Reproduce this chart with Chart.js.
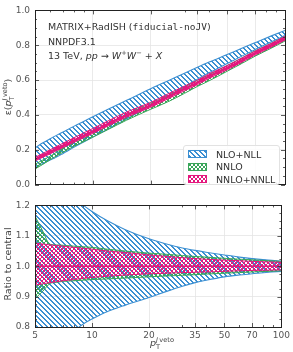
<!DOCTYPE html>
<html>
<head>
<meta charset="utf-8">
<script src="https://cdn.jsdelivr.net/npm/chart.js@4.4.0/dist/chart.umd.min.js"></script>
<style>
  body { margin: 0; background: #fff; width: 293px; height: 352px; position: relative; overflow: hidden;
         font-family: 'DejaVu Sans', sans-serif; color: #333; }
  canvas { position: absolute; left: 0; }
  #top { top: 0; }
  #bot { top: 195px; }
  .t { position: absolute; white-space: nowrap; font-size: 9.5px; line-height: 12px; color: #333; }
  .mono { font-family: 'DejaVu Sans Mono', monospace; }
  .ax { position: absolute; white-space: nowrap; font-size: 9.5px; color: #444; line-height: 12px;
        transform: translate(-50%, -50%) rotate(-90deg); }
  .xt { position: absolute; white-space: nowrap; font-size: 9.5px; color: #444; line-height: 12px;
        transform: translate(-50%, -50%); }
  sub, sup { font-size: 0.7em; line-height: 0; }
  .legend { position: absolute; left: 183px; top: 145px; width: 97px; height: 40px; box-sizing: border-box;
            background: rgba(255,255,255,0.85); border: 1px solid #e2e2e2; border-radius: 3px; }
  .row { position: absolute; left: 4px; height: 12px; display: flex; align-items: center; font-size: 9.5px; color: #333; }
  .row canvas { position: static; margin-right: 9px; }
</style>
</head>
<body>
<canvas id="top" width="293" height="195"></canvas>
<canvas id="bot" width="293" height="157"></canvas>

<div class="t" style="left:48px;top:21px">MATRIX+RadISH (<span class="mono">fiducial-noJV</span>)</div>
<div class="t" style="left:48px;top:35.5px">NNPDF3.1</div>
<div class="t" style="left:48px;top:50px">13 TeV, <i>pp</i> &rarr; <i>W</i><sup>+</sup><i>W</i><sup>&minus;</sup> + <i>X</i></div>

<div class="ax" style="left:8px;top:97px">&epsilon;(<i>p</i><sub>T</sub><sup style="margin-left:-0.6em"><i>J</i>&#8201;veto</sup>)</div>
<div class="ax" style="left:8px;top:264px">Ratio to central</div>
<div class="xt" style="left:162px;top:343px"><i>p</i><sub>T</sub><sup style="margin-left:-0.6em"><i>J</i>&#8201;veto</sup></div>

<div class="legend" id="legend"></div>

<script>
// pT veto grid (GeV)
const xs = [5, 5.5, 6, 6.5, 7, 8, 9, 10, 12, 15, 20, 25, 30, 35, 40, 50, 60, 70, 85, 100];

// central efficiencies
const nloNll    = [0.155, 0.179, 0.201, 0.221, 0.240, 0.274, 0.303, 0.330, 0.376, 0.432, 0.505, 0.559, 0.603, 0.640, 0.671, 0.720, 0.761, 0.795, 0.837, 0.870];
const nnlo      = [0.100, 0.127, 0.152, 0.175, 0.196, 0.232, 0.260, 0.285, 0.330, 0.385, 0.448, 0.495, 0.540, 0.580, 0.610, 0.666, 0.712, 0.752, 0.797, 0.837];
const nnloNnll  = [0.145, 0.167, 0.187, 0.206, 0.223, 0.254, 0.281, 0.305, 0.348, 0.399, 0.455, 0.508, 0.550, 0.585, 0.620, 0.670, 0.715, 0.755, 0.800, 0.840];

// uncertainty bands, ratio to each central value
const nloNllHi   = [1.360, 1.340, 1.310, 1.285, 1.260, 1.225, 1.200, 1.180, 1.150, 1.120, 1.090, 1.072, 1.060, 1.052, 1.046, 1.037, 1.030, 1.025, 1.020, 1.017];
const nloNllLo   = [0.660, 0.680, 0.700, 0.720, 0.745, 0.785, 0.810, 0.826, 0.850, 0.872, 0.897, 0.918, 0.934, 0.946, 0.954, 0.965, 0.971, 0.975, 0.980, 0.983];
const nnloHi     = [1.165, 1.115, 1.072, 1.070, 1.069, 1.066, 1.064, 1.062, 1.056, 1.050, 1.043, 1.039, 1.035, 1.032, 1.030, 1.026, 1.023, 1.021, 1.018, 1.016];
const nnloLo     = [0.893, 0.918, 0.943, 0.947, 0.950, 0.952, 0.954, 0.956, 0.958, 0.961, 0.965, 0.968, 0.970, 0.972, 0.974, 0.977, 0.979, 0.981, 0.983, 0.985];
const nnloNnllHi = [1.076, 1.073, 1.070, 1.068, 1.066, 1.062, 1.059, 1.056, 1.050, 1.045, 1.037, 1.032, 1.028, 1.025, 1.023, 1.020, 1.018, 1.016, 1.014, 1.013];
const nnloNnllLo = [0.938, 0.942, 0.946, 0.949, 0.952, 0.956, 0.960, 0.963, 0.967, 0.971, 0.975, 0.977, 0.979, 0.980, 0.981, 0.983, 0.985, 0.986, 0.987, 0.988];
const unity = xs.map(() => 1);

const labels = ['NLO+NLL', 'NNLO', 'NNLO+NNLL'];

// ticks
const xTicks = [5, 10, 20, 35, 50, 70, 100];
const xMinor = [6, 7, 8, 9, 30, 40, 60, 80, 90];
const yTicksTop = [0, 0.2, 0.4, 0.6, 0.8, 1.0];
const yMinorTop = [0.05, 0.1, 0.15, 0.25, 0.3, 0.35, 0.45, 0.5, 0.55, 0.65, 0.7, 0.75, 0.85, 0.9, 0.95];
const yTicksBot = [0.8, 0.9, 1.0, 1.1, 1.2];
const yMinorBot = [0.825, 0.85, 0.875, 0.925, 0.95, 0.975, 1.025, 1.05, 1.075, 1.125, 1.15, 1.175];

const BLUE = '#3b8fd2', GREEN = '#3aa65a', PINK = '#e4187e';

// pixel hatch tiles: '\' diagonal (2px wide) or 'x' cross
function hatch(color, kind, s) {
  const c = document.createElement('canvas');
  c.width = c.height = s;
  const g = c.getContext('2d');
  g.fillStyle = color;
  for (let i = 0; i < s; i++) {
    g.fillRect(i, i, 1, 1);
    if (kind === 'x') g.fillRect(s - 1 - i, i, 1, 1);
    if (kind === '\\') g.fillRect((i + 1) % s, i, 1, 1);
  }
  return g.createPattern(c, 'repeat');
}
const patBlue = hatch(BLUE, '\\', 5);
const patGreen = hatch(GREEN, 'x', 4);
const patPink = hatch(PINK, 'x', 4);

const pts = (c, r) => c.map((v, i) => ({x: xs[i], y: v * r[i]}));

function lineSet(data, color, width, fill, bg) {
  return {data, borderColor: color, borderWidth: width, fill: fill, backgroundColor: bg || 'transparent',
          pointRadius: 0, cubicInterpolationMode: 'monotone', clip: 0};
}

// inward ticks + frame, matplotlib style
const frameTicks = {
  id: 'frameTicks',
  afterDatasetsDraw(chart, args, o) {
    const {ctx, chartArea: a, scales: {x, y}} = chart;
    ctx.save();
    ctx.strokeStyle = '#333';
    ctx.lineWidth = 0.8;
    ctx.beginPath();
    const vx = (v, len) => {
      const px = Math.round(x.getPixelForValue(v)) + 0.5;
      ctx.moveTo(px, a.top); ctx.lineTo(px, a.top + len);
      ctx.moveTo(px, a.bottom); ctx.lineTo(px, a.bottom - len);
    };
    const hy = (v, len) => {
      const py = Math.round(y.getPixelForValue(v)) + 0.5;
      ctx.moveTo(a.left, py); ctx.lineTo(a.left + len, py);
      ctx.moveTo(a.right, py); ctx.lineTo(a.right - len, py);
    };
    o.xMajor.forEach(v => vx(v, 4));
    o.xMinor.forEach(v => vx(v, 2));
    o.yMajor.forEach(v => hy(v, 4));
    o.yMinor.forEach(v => hy(v, 2));
    ctx.stroke();
    ctx.lineWidth = 1;
    ctx.strokeStyle = '#222';
    ctx.strokeRect(Math.round(a.left) + 0.5, Math.round(a.top) + 0.5, Math.round(a.width), Math.round(a.height));
    ctx.restore();
  }
};

const tickFont = {family: 'DejaVu Sans', size: 9};
const gridCol = '#e4e4e4';

function xScale(showLabels) {
  return {
    type: 'logarithmic', min: 5, max: 100,
    afterBuildTicks: s => { s.ticks = xTicks.map(v => ({value: v})); },
    afterFit: s => { s.height = showLabels ? 25 : 0; },
    ticks: {display: showLabels, font: tickFont, color: '#555', padding: 3, maxRotation: 0, autoSkip: false,
            callback: v => String(v)},
    grid: {color: gridCol, lineWidth: 0.8, drawTicks: false},
    border: {display: false}
  };
}
function yScale(min, max, ticks) {
  return {
    min, max,
    afterBuildTicks: s => { s.ticks = ticks.map(v => ({value: v})); },
    afterFit: s => { s.width = 35; },
    ticks: {font: tickFont, color: '#555', padding: 5, callback: v => v.toFixed(1)},
    grid: {color: gridCol, lineWidth: 0.8, drawTicks: false},
    border: {display: false}
  };
}

new Chart(document.getElementById('top'), {
  type: 'line',
  data: {
    datasets: [
      lineSet(pts(nnloNnll, unity), PINK, 2.6, false),
      lineSet(pts(nnloNnll, nnloNnllHi), PINK, 1, '+1', patPink),
      lineSet(pts(nnloNnll, nnloNnllLo), PINK, 1, false),
      lineSet(pts(nnlo, nnloHi), GREEN, 1, '+1', patGreen),
      lineSet(pts(nnlo, nnloLo), GREEN, 1, false),
      lineSet(pts(nloNll, nloNllHi), BLUE, 1.1, '+1', patBlue),
      lineSet(pts(nloNll, nloNllLo), BLUE, 1.1, false)
    ]
  },
  options: {
    responsive: false, animation: false, events: [],
    layout: {padding: {top: 4, right: 8, bottom: 4, left: 0}},
    plugins: {legend: {display: false}, tooltip: {enabled: false},
              frameTicks: {xMajor: xTicks, xMinor: xMinor, yMajor: yTicksTop, yMinor: yMinorTop}},
    scales: {x: xScale(false), y: yScale(0, 1, yTicksTop)}
  },
  plugins: [frameTicks]
});

new Chart(document.getElementById('bot'), {
  type: 'line',
  data: {
    datasets: [
      lineSet(pts(unity, unity), PINK, 1.6, false),
      lineSet(pts(unity, nnloNnllHi), PINK, 1, '+1', patPink),
      lineSet(pts(unity, nnloNnllLo), PINK, 1, false),
      lineSet(pts(unity, unity), GREEN, 1, false),
      lineSet(pts(unity, nnloHi), GREEN, 1, '+1', patGreen),
      lineSet(pts(unity, nnloLo), GREEN, 1, false),
      lineSet(pts(unity, nloNllHi), BLUE, 1.1, '+1', patBlue),
      lineSet(pts(unity, nloNllLo), BLUE, 1.1, false)
    ]
  },
  options: {
    responsive: false, animation: false, events: [],
    layout: {padding: {top: 5, right: 8, bottom: 0, left: 0}},
    plugins: {legend: {display: false}, tooltip: {enabled: false},
              frameTicks: {xMajor: xTicks, xMinor: xMinor, yMajor: yTicksBot, yMinor: yMinorBot}},
    scales: {x: xScale(true), y: yScale(0.8, 1.2, yTicksBot)}
  },
  plugins: [frameTicks]
});

// legend
const legend = document.getElementById('legend');
[[BLUE, patBlue], [GREEN, patGreen], [PINK, patPink]].forEach(([col, pat], i) => {
  const row = document.createElement('div');
  row.className = 'row';
  row.style.top = (2 + i * 12.5) + 'px';
  const sw = document.createElement('canvas');
  sw.width = 19; sw.height = 8;
  const g = sw.getContext('2d');
  g.fillStyle = pat;
  g.fillRect(0, 0, 19, 8);
  g.strokeStyle = col;
  g.lineWidth = 1;
  g.strokeRect(0.5, 0.5, 18, 7);
  row.appendChild(sw);
  const sp = document.createElement('span');
  sp.textContent = labels[i];
  row.appendChild(sp);
  legend.appendChild(row);
});
</script>
</body>
</html>
